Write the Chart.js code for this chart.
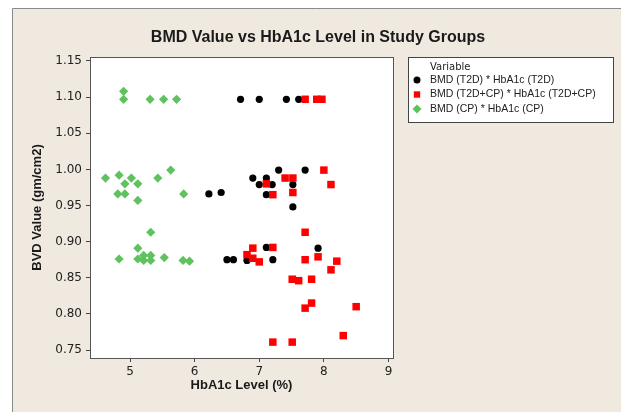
<!DOCTYPE html>
<html>
<head>
<meta charset="utf-8">
<script src="https://cdn.jsdelivr.net/npm/chart.js@4.4.1/dist/chart.umd.min.js"></script>
<style>
  html, body { margin: 0; padding: 0; background: #fff; }
  #chart { display: block; }
</style>
</head>
<body>
<canvas id="chart" width="623" height="412"></canvas>
<script>
var chartTitle = 'BMD Value vs HbA1c Level in Study Groups';
var legendTitle = 'Variable';

var seriesLabels = ['BMD (T2D) * HbA1c (T2D)',
                    'BMD (T2D+CP) * HbA1c (T2D+CP)',
                    'BMD (CP) * HbA1c (CP)'];

// T2D group
var t2dHba1c = [6.71, 7.00, 7.42, 7.61,
                6.22, 6.41, 6.90, 7.11, 7.00, 7.20, 7.52, 7.11, 7.30, 7.71, 7.52,
                7.11, 7.91, 6.50, 6.60, 6.81, 7.21];
var t2dBmd = [1.097, 1.097, 1.097, 1.097,
              0.966, 0.968, 0.988, 0.988, 0.979, 0.979, 0.979, 0.965, 0.999, 0.999, 0.948,
              0.892, 0.891, 0.875, 0.875, 0.874, 0.875];

// T2D+CP group
var t2dcpHba1c = [7.71, 7.89, 7.97,
                  8.00, 7.40, 7.52, 7.11, 8.11, 7.21, 7.52,
                  7.71, 7.21, 6.90, 6.81, 6.90, 7.00, 7.71, 7.91, 8.20, 8.11,
                  7.51, 7.61, 7.81, 7.81, 7.71, 8.50, 8.30, 7.21, 7.51];
var t2dcpBmd = [1.097, 1.097, 1.097,
                0.999, 0.988, 0.988, 0.980, 0.979, 0.965, 0.968,
                0.913, 0.892, 0.891, 0.882, 0.877, 0.872, 0.875, 0.879, 0.873, 0.861,
                0.848, 0.846, 0.848, 0.815, 0.808, 0.810, 0.770, 0.761, 0.761];

// CP group
var cpHba1c = [4.90, 4.90, 5.31, 5.52, 5.72,
               4.62, 4.83, 5.02, 4.92, 5.12, 4.81, 4.92, 5.12, 5.43, 5.63, 5.83,
               5.32, 5.12, 4.83, 5.12, 5.21, 5.21, 5.32, 5.32, 5.53, 5.82, 5.92];
var cpBmd = [1.108, 1.097, 1.097, 1.097, 1.097,
             0.988, 0.992, 0.988, 0.980, 0.980, 0.966, 0.966, 0.957, 0.988, 0.999, 0.966,
             0.913, 0.891, 0.876, 0.876, 0.881, 0.874, 0.881, 0.874, 0.878, 0.874, 0.873];

var xTicks = [5, 6, 7, 8, 9];
var yTicks = [0.75, 0.80, 0.85, 0.90, 0.95, 1.00, 1.05, 1.10, 1.15];

function toPoints(xs, ys) {
  return xs.map(function (x, i) { return { x: x, y: ys[i] }; });
}

var TICK_FONT = { family: 'DejaVu Sans', size: 12 };
var TITLE_FONT = { family: 'Liberation Sans', size: 13, weight: 'bold' };

var framePlugin = {
  id: 'frame',
  beforeDraw: function (chart) {
    var ctx = chart.ctx, a = chart.chartArea;
    ctx.save();
    ctx.fillStyle = '#ffffff';
    ctx.fillRect(0, 0, chart.width, chart.height);
    ctx.fillStyle = '#efe9e0';
    ctx.fillRect(12, 8, chart.width - 14, chart.height - 8);
    ctx.strokeStyle = '#8a8a8a';
    ctx.lineWidth = 1;
    ctx.beginPath();
    ctx.moveTo(12.5, chart.height);
    ctx.lineTo(12.5, 8.5);
    ctx.lineTo(chart.width - 2, 8.5);
    ctx.stroke();
    ctx.fillStyle = '#ffffff';
    ctx.fillRect(a.left, a.top, a.right - a.left, a.bottom - a.top);
    ctx.restore();
  },
  afterDraw: function (chart) {
    var ctx = chart.ctx, a = chart.chartArea;
    ctx.save();
    // plot box
    ctx.strokeStyle = '#555555';
    ctx.lineWidth = 1;
    ctx.strokeRect(Math.round(a.left) + 0.5, Math.round(a.top) + 0.5,
                   Math.round(a.right - a.left), Math.round(a.bottom - a.top));

    // title
    ctx.fillStyle = '#1a1a1a';
    ctx.font = 'bold 16px "Liberation Sans"';
    ctx.textAlign = 'center';
    ctx.textBaseline = 'middle';
    ctx.fillText(chartTitle, 318, 38);

    // legend box
    var lx = 408, ly = 57, lw = 205, lh = 65;
    ctx.fillStyle = '#ffffff';
    ctx.fillRect(lx, ly, lw, lh);
    ctx.strokeStyle = '#444444';
    ctx.strokeRect(lx + 0.5, ly + 0.5, lw, lh);
    ctx.fillStyle = '#222222';
    ctx.textAlign = 'left';
    ctx.font = '10px "DejaVu Sans"';
    ctx.fillText(legendTitle, lx + 22, ly + 10);
    ctx.font = '10.5px "Liberation Sans"';
    chart.data.datasets.forEach(function (ds, i) {
      var y = ly + 23 + i * 14.5;
      ctx.fillStyle = ds.backgroundColor;
      Chart.helpers.drawPoint(ctx, {
        pointStyle: ds.pointStyle,
        radius: ds.pointStyle === 'circle' ? 3.5 : 4.5,
        borderWidth: 0
      }, lx + 9, y);
      ctx.fillStyle = '#222222';
      ctx.fillText(ds.label, lx + 22, y);
    });
    ctx.restore();
  }
};

var chart = new Chart(document.getElementById('chart'), {
  type: 'scatter',
  data: {
    datasets: [
      {
        label: seriesLabels[0],
        data: toPoints(t2dHba1c, t2dBmd),
        pointStyle: 'circle',
        backgroundColor: '#000000',
        borderColor: '#000000',
        borderWidth: 0,
        pointRadius: 3.6,
        order: 3
      },
      {
        label: seriesLabels[1],
        data: toPoints(t2dcpHba1c, t2dcpBmd),
        pointStyle: 'rect',
        backgroundColor: '#ff0000',
        borderColor: '#ff0000',
        borderWidth: 0,
        pointRadius: 5.3,
        order: 2
      },
      {
        label: seriesLabels[2],
        data: toPoints(cpHba1c, cpBmd),
        pointStyle: 'rectRot',
        backgroundColor: '#5ec25e',
        borderColor: '#5ec25e',
        borderWidth: 0,
        pointRadius: 4.6,
        order: 1
      }
    ]
  },
  options: {
    responsive: false,
    animation: false,
    layout: { padding: { left: 30, right: 230, top: 57, bottom: 12 } },
    plugins: {
      legend: { display: false },
      title: { display: false },
      tooltip: { enabled: false }
    },
    scales: {
      x: {
        type: 'linear',
        min: 4.38,
        max: 9.07,
        afterBuildTicks: function (scale) {
          scale.ticks = xTicks.map(function (v) { return { value: v }; });
        },
        afterFit: function (scale) { scale.height = 42; },
        grid: { display: true, drawOnChartArea: false, drawTicks: true, tickLength: 4, tickColor: '#444' },
        border: { display: true, color: '#555' },
        ticks: {
          padding: 3,
          color: '#222',
          font: TICK_FONT,
          maxRotation: 0,
          callback: function (v) { return v.toFixed(0); }
        },
        title: {
          display: true,
          text: 'HbA1c Level (%)',
          color: '#1a1a1a',
          font: TITLE_FONT,
          padding: { top: 0, bottom: 7 }
        }
      },
      y: {
        type: 'linear',
        min: 0.739,
        max: 1.1555,
        afterBuildTicks: function (scale) {
          scale.ticks = yTicks.map(function (v) { return { value: v }; });
        },
        afterFit: function (scale) { scale.width = 60; },
        grid: { display: true, drawOnChartArea: false, drawTicks: true, tickLength: 4, tickColor: '#444' },
        border: { display: true, color: '#555' },
        ticks: {
          padding: 4,
          color: '#222',
          font: TICK_FONT,
          callback: function (v) { return v.toFixed(2); }
        },
        title: {
          display: true,
          text: 'BVD Value (gm/cm2)',
          color: '#1a1a1a',
          font: TITLE_FONT,
          padding: { top: 0, bottom: 0 }
        }
      }
    }
  },
  plugins: [framePlugin]
});
</script>
</body>
</html>
